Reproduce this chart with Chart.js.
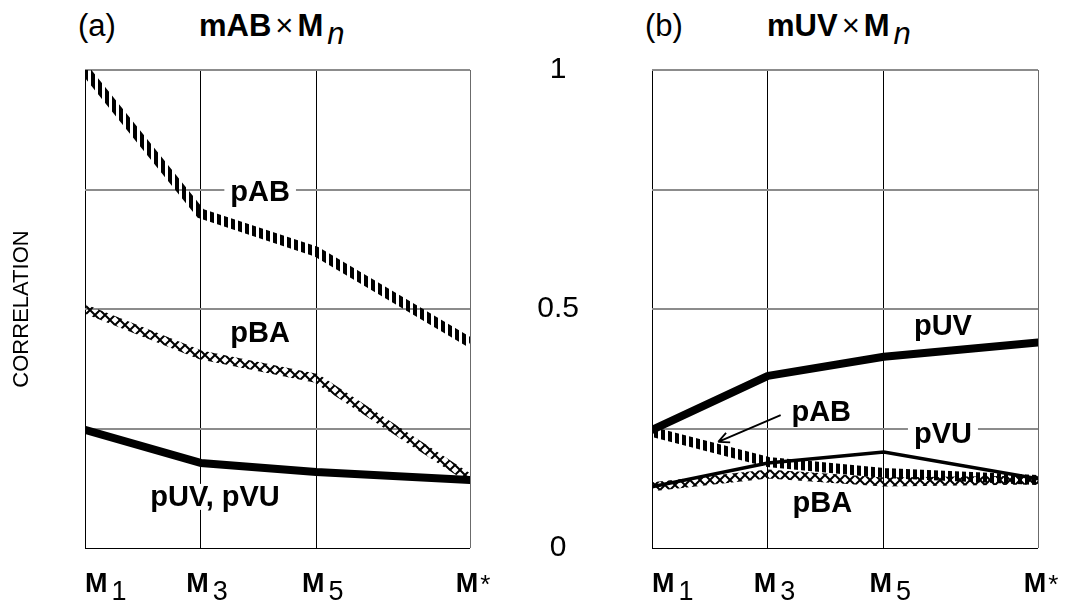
<!DOCTYPE html>
<html>
<head>
<meta charset="utf-8">
<title>Correlation panels</title>
<script src="https://cdn.jsdelivr.net/npm/chart.js@4"></script>
<style>
  body { margin: 0; background: #fff; font-family: "Liberation Sans", Arial, sans-serif; }
  #wrap { position: relative; width: 1069px; height: 612px; }
  .box { position: absolute; top: 0; height: 612px; }
  .title { position: absolute; top: 11px; font-size: 31px; line-height: 30px; color: #000; white-space: nowrap; }
  .title .times { margin: 0 4px; }
  .title i { position: relative; top: 8px; margin-left: 4px; }
</style>
</head>
<body>
<div id="wrap">
  <div class="title" style="left:78px">(a)</div>
  <div class="title" style="left:199px"><b>mAB</b><span class="times">×</span><b>M</b><i>n</i></div>
  <div class="title" style="left:645px">(b)</div>
  <div class="title" style="left:767px"><b>mUV</b><span class="times">×</span><b>M</b><i>n</i></div>
  <div class="box" style="left:0;width:500px"><canvas id="chartA"></canvas></div>
  <div class="box" style="left:500px;width:569px"><canvas id="chartB"></canvas></div>
</div>
<script>
// x positions of the model columns (M1, M3, M5, M*) and their labels
const positions = [0, 1, 2, 3.33];
const tickSubs = ["1", "3", "5", "*"];
const yTicks = [0, 0.25, 0.5, 0.75, 1];

// panel (a): mAB x Mn
const aAB = [1.0, 0.70, 0.62, 0.43];
const aBA = [0.50, 0.404, 0.355, 0.145];
const aUV = [0.247, 0.178, 0.159, 0.142];

// panel (b): mUV x Mn
const bUV = [0.247, 0.36, 0.40, 0.43];
const bVU = [0.128, 0.178, 0.201, 0.145];
const bAB = [0.243, 0.18, 0.157, 0.142];
const bBA = [0.128, 0.155, 0.138, 0.142];

// in-plot labels (data coordinates)
const notesA = [
  { text: "pAB", x: 1.515, y: 0.745 },
  { text: "pBA", x: 1.515, y: 0.45 },
  { text: "pUV, pVU", x: 1.125, y: 0.107 },
];
const notesB = [
  { text: "pUV", x: 2.51, y: 0.464 },
  { text: "pAB", x: 1.46, y: 0.284 },
  { text: "pVU", x: 2.51, y: 0.238 },
  { text: "pBA", x: 1.47, y: 0.094 },
];
const arrowB = { from: [1.11, 0.278], to: [0.571, 0.222] };

const FONT = '"Liberation Sans", Arial, sans-serif';
Chart.defaults.font.family = FONT;
Chart.defaults.color = "#000";

function pts(vals) {
  return vals.map((v, i) => ({ x: positions[i], y: v }));
}

// vertical bar hatch for pAB
function hatchPattern() {
  const c = document.createElement("canvas");
  c.width = 7; c.height = 7;
  const g = c.getContext("2d");
  g.fillStyle = "#000";
  g.fillRect(0, 0, 4, 7);
  return g.createPattern(c, "repeat");
}

// diagonal crosses for pBA
function crossPattern() {
  const c = document.createElement("canvas");
  c.width = 10; c.height = 10;
  const g = c.getContext("2d");
  g.strokeStyle = "#000";
  g.lineWidth = 2;
  g.beginPath();
  g.moveTo(-1, -1); g.lineTo(11, 11);
  g.moveTo(11, -1); g.lineTo(-1, 11);
  g.stroke();
  return g.createPattern(c, "repeat");
}

function thick(vals) {
  return { data: pts(vals), borderColor: "#000", borderWidth: 8, borderCapStyle: "round", borderJoinStyle: "round" };
}
function thin(vals) {
  return { data: pts(vals), borderColor: "#000", borderWidth: 3.5, borderCapStyle: "round" };
}
function hatched(vals) {
  return { data: pts(vals), borderColor: hatchPattern(), borderWidth: 10, borderCapStyle: "butt" };
}
function crossed(vals) {
  return { data: pts(vals), borderColor: crossPattern(), borderWidth: 9, borderCapStyle: "butt" };
}

/* ==========================
   PLUGINS
   ========================== */
const notesPlugin = {
  id: "notes",
  afterDatasetsDraw(chart, args, opts) {
    const { ctx, scales: { x, y } } = chart;
    ctx.save();
    ctx.font = `bold 29px ${FONT}`;
    ctx.textAlign = "center";
    ctx.textBaseline = "middle";
    (opts.items || []).forEach((n) => {
      const px = x.getPixelForValue(n.x);
      const py = y.getPixelForValue(n.y);
      const w = ctx.measureText(n.text).width;
      ctx.fillStyle = "#fff";
      ctx.fillRect(px - w / 2 - 6, py - 13, w + 12, 26);
      ctx.fillStyle = "#000";
      ctx.fillText(n.text, px, py + 1);
    });
    if (opts.arrow) {
      const a = opts.arrow;
      const x0 = x.getPixelForValue(a.from[0]), y0 = y.getPixelForValue(a.from[1]);
      const x1 = x.getPixelForValue(a.to[0]), y1 = y.getPixelForValue(a.to[1]);
      const ang = Math.atan2(y1 - y0, x1 - x0);
      ctx.strokeStyle = "#000";
      ctx.lineWidth = 1.8;
      ctx.beginPath();
      ctx.moveTo(x0, y0);
      ctx.lineTo(x1, y1);
      ctx.moveTo(x1, y1);
      ctx.lineTo(x1 - 12 * Math.cos(ang - 0.45), y1 - 12 * Math.sin(ang - 0.45));
      ctx.moveTo(x1, y1);
      ctx.lineTo(x1 - 12 * Math.cos(ang + 0.45), y1 - 12 * Math.sin(ang + 0.45));
      ctx.stroke();
    }
    ctx.restore();
  },
};

// M labels with subscripts under the x grid lines
const mLabelsPlugin = {
  id: "mlabels",
  afterDraw(chart) {
    const { ctx, chartArea, scales: { x } } = chart;
    const base = chartArea.bottom + 44;
    ctx.save();
    ctx.fillStyle = "#000";
    ctx.textAlign = "left";
    ctx.textBaseline = "alphabetic";
    positions.forEach((v, i) => {
      const px = x.getPixelForValue(v);
      ctx.font = `bold 27px ${FONT}`;
      const mw = ctx.measureText("M").width;
      const left = i === 0 ? px : px - mw / 2 - 3;
      ctx.fillText("M", left, base);
      const sub = tickSubs[i];
      if (sub === "*") {
        ctx.font = `26px ${FONT}`;
        ctx.fillText(sub, left + mw + 2, base + 1);
      } else {
        ctx.font = `27px ${FONT}`;
        ctx.fillText(sub, left + mw + 4, base + 8);
      }
    });
    ctx.restore();
  },
};

Chart.register(notesPlugin, mLabelsPlugin);

function noPad(s) {
  s.paddingTop = 0;
  s.paddingBottom = 0;
  s.paddingLeft = 0;
  s.paddingRight = 0;
}

function buildOptions(yWidth, showTicks, rightPad, notes, arrow) {
  return {
    responsive: true,
    maintainAspectRatio: false,
    animation: false,
    layout: { padding: { top: 70, right: rightPad, left: 0, bottom: 0 } },
    elements: { point: { radius: 0 }, line: { tension: 0 } },
    plugins: {
      legend: { display: false },
      tooltip: { enabled: false },
      notes: { items: notes, arrow: arrow },
    },
    scales: {
      x: {
        type: "linear",
        min: positions[0],
        max: positions[positions.length - 1],
        afterBuildTicks: (s) => { s.ticks = positions.map((v) => ({ value: v })); },
        afterFit: (s) => { s.height = 64; noPad(s); },
        ticks: { display: false },
        border: { display: false },
        grid: {
          drawTicks: false,
          lineWidth: 1,
          color: (c) => (c.index === positions.length - 1 ? "#6b6b6b" : "#000"),
        },
      },
      y: {
        min: 0,
        max: 1,
        afterBuildTicks: (s) => { s.ticks = yTicks.map((v) => ({ value: v })); },
        afterFit: (s) => { s.width = yWidth; noPad(s); },
        border: { display: false },
        grid: {
          drawTicks: false,
          color: (c) => (c.tick && c.tick.value === 0 ? "#000" : "#8c8c8c"),
          lineWidth: (c) => (c.tick && c.tick.value === 0 ? 1 : 2),
        },
        ticks: {
          display: showTicks,
          crossAlign: "center",
          padding: 73,
          font: { size: 30 },
          color: "#000",
          callback: (v) => (v === 0 || v === 0.5 || v === 1 ? String(v) : ""),
        },
        title: {
          display: !showTicks,
          text: "CORRELATION",
          font: { size: 22 },
          color: "#000",
          padding: { top: 9, bottom: 0 },
        },
      },
    },
  };
}

new Chart(document.getElementById("chartA"), {
  type: "line",
  data: { datasets: [thick(aUV), crossed(aBA), hatched(aAB)] },
  options: buildOptions(85, false, 30, notesA, null),
});

new Chart(document.getElementById("chartB"), {
  type: "line",
  data: { datasets: [thick(bUV), thin(bVU), hatched(bAB), crossed(bBA)] },
  options: buildOptions(152, true, 31, notesB, arrowB),
});
</script>
</body>
</html>
